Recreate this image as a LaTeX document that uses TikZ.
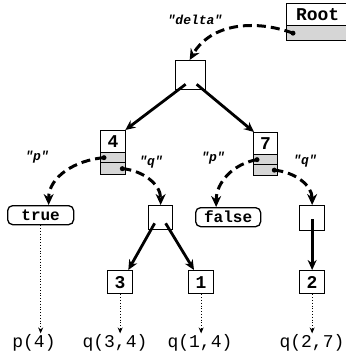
\documentclass[tikz,border=0pt]{standalone}
\usepackage{fontspec}
\setmonofont{Liberation Mono}
\usetikzlibrary{arrows.meta}
\begin{document}
\begin{tikzpicture}[x=1pt,y=-1pt,
  cell/.style={draw, line width=1.3pt, inner sep=0pt, anchor=north west},
  field/.style={cell, fill=black!16},
  leaf/.style={cell, rounded corners=5pt},
  bold/.style={font=\fontsize{18}{18}\selectfont\ttfamily\bfseries},
  leaftext/.style={font=\fontsize{16}{16}\selectfont\ttfamily\bfseries},
  result/.style={font=\fontsize{18}{18}\selectfont\ttfamily, inner sep=1pt},
  lab/.style={font=\fontsize{13}{13}\selectfont\ttfamily\bfseries\itshape},
  ptr/.style={line width=3pt, dash pattern=on 9pt off 5pt,
    -{Stealth[length=11pt,width=10pt]}},
  edge/.style={line width=2.8pt, -{Stealth[length=10pt,width=9pt]}},
  obs/.style={line width=0.8pt, dotted, -{Stealth[length=6pt,width=5pt]}},
  blob/.style={fill=black, circle, inner sep=0pt, minimum size=5pt}
]
\useasboundingbox (0,0) rectangle (346,357);

% root record
\node[cell, bold, minimum width=62pt, minimum height=22pt] (root) at (286,3) {Root};
\node[field, minimum width=62pt, minimum height=15pt] (rootf) at (286,25) {};

% top-level node
\node[cell, minimum width=30pt, minimum height=29pt] (top) at (175,60) {};

% node 4 with its p and q fields
\node[cell, bold, minimum width=25pt, minimum height=22pt] (n4) at (100,130) {4};
\node[field, minimum width=25pt, minimum height=10pt] (n4p) at (100,152) {};
\node[field, minimum width=25pt, minimum height=12pt] (n4q) at (100,162) {};

% node 7 with its p and q fields
\node[cell, bold, minimum width=24pt, minimum height=22pt] (n7) at (253,132) {7};
\node[field, minimum width=24pt, minimum height=10pt] (n7p) at (253,154) {};
\node[field, minimum width=24pt, minimum height=11pt] (n7q) at (253,164) {};

% second level
\node[leaf, leaftext, minimum width=66pt, minimum height=19pt] (tru) at (7,205) {true};
\node[cell, minimum width=24pt, minimum height=24pt] (mq) at (148,205) {};
\node[leaf, leaftext, minimum width=65pt, minimum height=19pt] (fls) at (195,207) {false};
\node[cell, minimum width=25pt, minimum height=25pt] (rq) at (299,205) {};

% leaves
\node[cell, bold, minimum width=25pt, minimum height=23pt] (b3) at (107,270) {3};
\node[cell, bold, minimum width=25pt, minimum height=23pt] (b1) at (188,270) {1};
\node[cell, bold, minimum width=25pt, minimum height=23pt] (b2) at (299,270) {2};

% results
\node[result] (l1) at (34,343) {p(4)};
\node[result] (l2) at (115,343) {q(3,4)};
\node[result] (l3) at (200,343) {q(1,4)};
\node[result] (l4) at (312,343) {q(2,7)};

% pointer origins
\node[blob] (rs) at ([xshift=7pt]rootf.west) {};
\node[blob] (p4s) at ([xshift=4pt]n4p.west) {};
\node[blob] (q4s) at ([xshift=-4pt]n4q.east) {};
\node[blob] (p7s) at ([xshift=4pt]n7p.west) {};
\node[blob] (q7s) at ([xshift=-4pt]n7q.east) {};

% dashed pointers
\draw[ptr] (rs.center) to[out=160,in=60] ([xshift=-1pt]top.north);
\draw[ptr] (p4s.center) to[out=185,in=90] ([xshift=8pt]tru.north);
\draw[ptr] (q4s.center) to[out=-5,in=90] (mq.north);
\draw[ptr] (p7s.center) to[out=190,in=90] ([xshift=-12pt]fls.north);
\draw[ptr] (q7s.center) to[out=-5,in=90] (rq.north);

% pointer labels
\node[lab] (ld) at (195,20) {"delta"};
\node[lab] (lp4) at (37,157) {"p"};
\node[lab] (lq4) at (151,162) {"q"};
\node[lab] (lp7) at (213,158) {"p"};
\node[lab] (lq7) at (305,161) {"q"};

% solid tree edges
\draw[edge] ([shift={(-5,-6)}]top.south) -- ([xshift=-1pt]n4.north east);
\draw[edge] ([shift={(6,-6)}]top.south) -- ([xshift=1pt]n7.north west);
\draw[edge] ([shift={(-6,-7)}]mq.south) -- ([xshift=-5pt]b3.north east);
\draw[edge] ([shift={(5,-7)}]mq.south) -- ([xshift=6pt]b1.north west);
\draw[edge] ([yshift=-1pt]rq.center) -- (b2.north);

% dotted result arrows
\draw[obs] (tru.south) -- (tru.south |- l1.north);
\draw[obs] (b3.south) -- (b3.south |- l2.north);
\draw[obs] (b1.south) -- (b1.south |- l3.north);
\draw[obs] (b2.south) -- (b2.south |- l4.north);
\end{tikzpicture}
\end{document}
